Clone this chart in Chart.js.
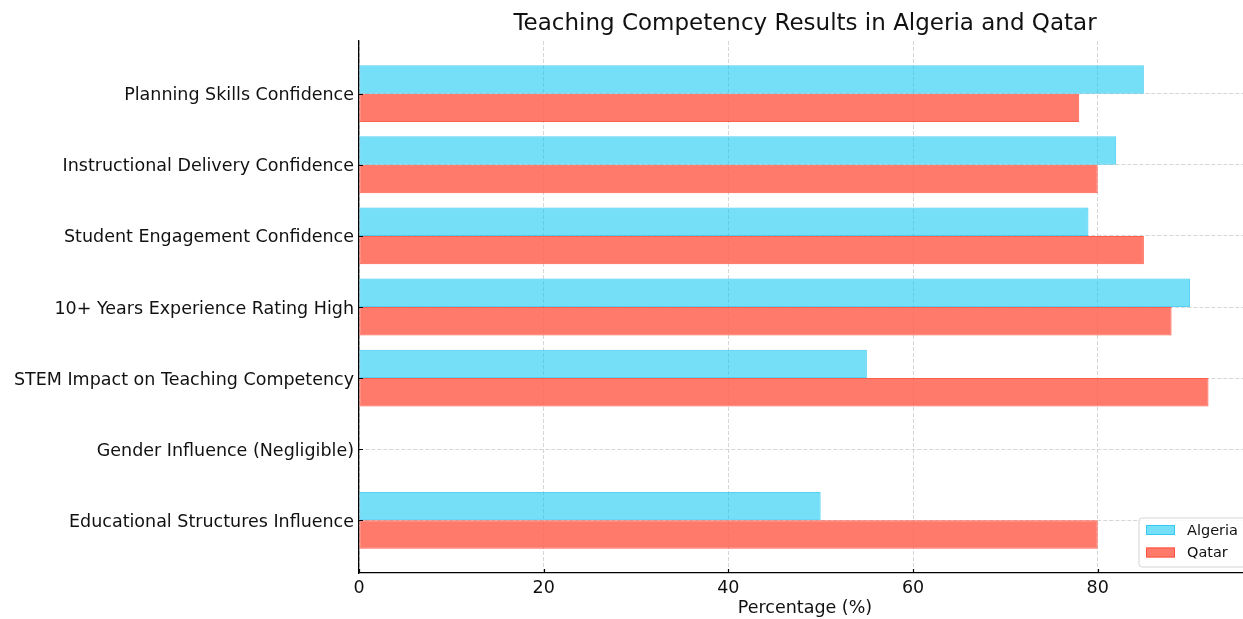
<!DOCTYPE html>
<html lang="en">
<head>
    <meta charset="UTF-8">
    <title>Teaching Competency Results in Algeria and Qatar</title>
    <style>
        html, body { margin: 0; padding: 0; background: #fff; overflow: hidden; }
        .chart-container { width: 1255px; height: 619px; position: relative; }
    </style>
</head>
<body>
    <div class="chart-container">
        <canvas id="compChart"></canvas>
    </div>

    <script src="https://cdn.jsdelivr.net/npm/chart.js"></script>
    <script>
// datos
const categories = [
    'Planning Skills Confidence',
    'Instructional Delivery Confidence',
    'Student Engagement Confidence',
    '10+ Years Experience Rating High',
    'STEM Impact on Teaching Competency',
    'Gender Influence (Negligible)',
    'Educational Structures Influence'
];
const algeria = [85, 82, 79, 90, 55, 0, 50];
const qatar = [78, 80, 85, 88, 92, 0, 80];
const xTicks = [0, 20, 40, 60, 80];

const FONT = '"DejaVu Sans", sans-serif';

// leyenda dentro del area, abajo a la derecha
const legendBox = {
    id: 'legendBox',
    afterDraw(chart) {
        const ctx = chart.ctx;
        const x = 1139, y = 518, w = 112, h = 49;
        ctx.save();
        ctx.beginPath();
        ctx.roundRect(x, y, w, h, 3);
        ctx.fillStyle = 'rgba(255,255,255,0.85)';
        ctx.fill();
        ctx.strokeStyle = '#d4d4d4';
        ctx.lineWidth = 1;
        ctx.stroke();
        ctx.font = '14.5px ' + FONT;
        ctx.textBaseline = 'middle';
        chart.data.datasets.forEach((ds, i) => {
            const cy = y + 12 + i * 22.5;
            ctx.fillStyle = ds.backgroundColor;
            ctx.fillRect(x + 7, cy - 5, 29, 10);
            ctx.strokeStyle = ds.borderColor;
            ctx.strokeRect(x + 7.5, cy - 4.5, 28, 9);
            ctx.fillStyle = '#111';
            ctx.fillText(ds.label, x + 48, cy + 1);
        });
        ctx.restore();
    }
};

// marcas de los ticks hacia dentro (estilo matplotlib)
const innerTicks = {
    id: 'innerTicks',
    afterDatasetsDraw(chart) {
        const ctx = chart.ctx;
        const xs = chart.scales.x, ys = chart.scales.y;
        const area = chart.chartArea;
        ctx.save();
        ctx.strokeStyle = '#000';
        ctx.lineWidth = 1.2;
        ctx.beginPath();
        xTicks.forEach(v => {
            const px = Math.round(xs.getPixelForValue(v)) + 0.5;
            ctx.moveTo(px, area.bottom);
            ctx.lineTo(px, area.bottom - 4);
        });
        categories.forEach((c, i) => {
            const py = Math.round(ys.getPixelForValue(i)) + 0.5;
            ctx.moveTo(area.left, py);
            ctx.lineTo(area.left + 4, py);
        });
        ctx.stroke();
        ctx.restore();
    }
};

const ctx = document.getElementById('compChart').getContext('2d');
const compChart = new Chart(ctx, {
    type: 'bar',
    data: {
        datasets: [{
            label: 'Algeria',
            data: categories.map((c, i) => ({ x: algeria[i], y: i })),
            backgroundColor: 'rgba(0,196,240,0.54)',
            borderColor: 'rgba(40,196,240,0.8)',
            borderWidth: c => (c.raw && c.raw.x === 0 ? 0 : 1),
            borderSkipped: false,
            categoryPercentage: 0.8,
            barPercentage: 1.0
        }, {
            label: 'Qatar',
            data: categories.map((c, i) => ({ x: qatar[i], y: i })),
            backgroundColor: 'rgba(255,99,80,0.85)',
            borderColor: 'rgba(255,80,60,0.9)',
            borderWidth: c => (c.raw && c.raw.x === 0 ? 0 : 1),
            borderSkipped: false,
            categoryPercentage: 0.8,
            barPercentage: 1.0
        }]
    },
    options: {
        indexAxis: 'y',
        responsive: true,
        maintainAspectRatio: false,
        animation: false,
        layout: { padding: { left: 0, right: 4, top: 0, bottom: 0 } },
        plugins: {
            legend: { display: false },
            tooltip: { enabled: false },
            title: {
                display: true,
                fullSize: false,
                text: 'Teaching Competency Results in Algeria and Qatar',
                color: '#111',
                font: { family: FONT, size: 23, weight: 'normal' },
                padding: { top: 10, bottom: 3.4 }
            }
        },
        scales: {
            x: {
                type: 'linear',
                min: 0,
                max: 96.6,
                afterBuildTicks: s => { s.ticks = xTicks.map(v => ({ value: v })); },
                afterFit: s => { s.height = 46; },
                grid: { color: '#cccccc', lineWidth: 0.8, drawTicks: false },
                border: { display: true, color: '#000', width: 1.3, dash: [4, 2] },
                ticks: {
                    color: '#111',
                    padding: 5,
                    font: { family: FONT, size: 17.5 }
                },
                title: {
                    display: true,
                    text: 'Percentage (%)',
                    color: '#111',
                    font: { family: FONT, size: 17.5 },
                    padding: { top: 0, bottom: 0 }
                }
            },
            y: {
                type: 'linear',
                reverse: true,
                offset: false,
                min: -0.74,
                max: 6.74,
                afterBuildTicks: s => { s.ticks = categories.map((c, i) => ({ value: i })); },
                afterFit: s => { s.width = 359; },
                grid: { color: '#cccccc', lineWidth: 0.8, drawTicks: false, offset: false },
                border: { display: true, color: '#000', width: 1.3, dash: [4, 2] },
                ticks: {
                    color: '#111',
                    padding: 5,
                    labelOffset: 2,
                    font: { family: FONT, size: 17.5 },
                    callback: v => categories[v]
                }
            }
        }
    },
    plugins: [innerTicks, legendBox]
});
    </script>
</body>
</html>
